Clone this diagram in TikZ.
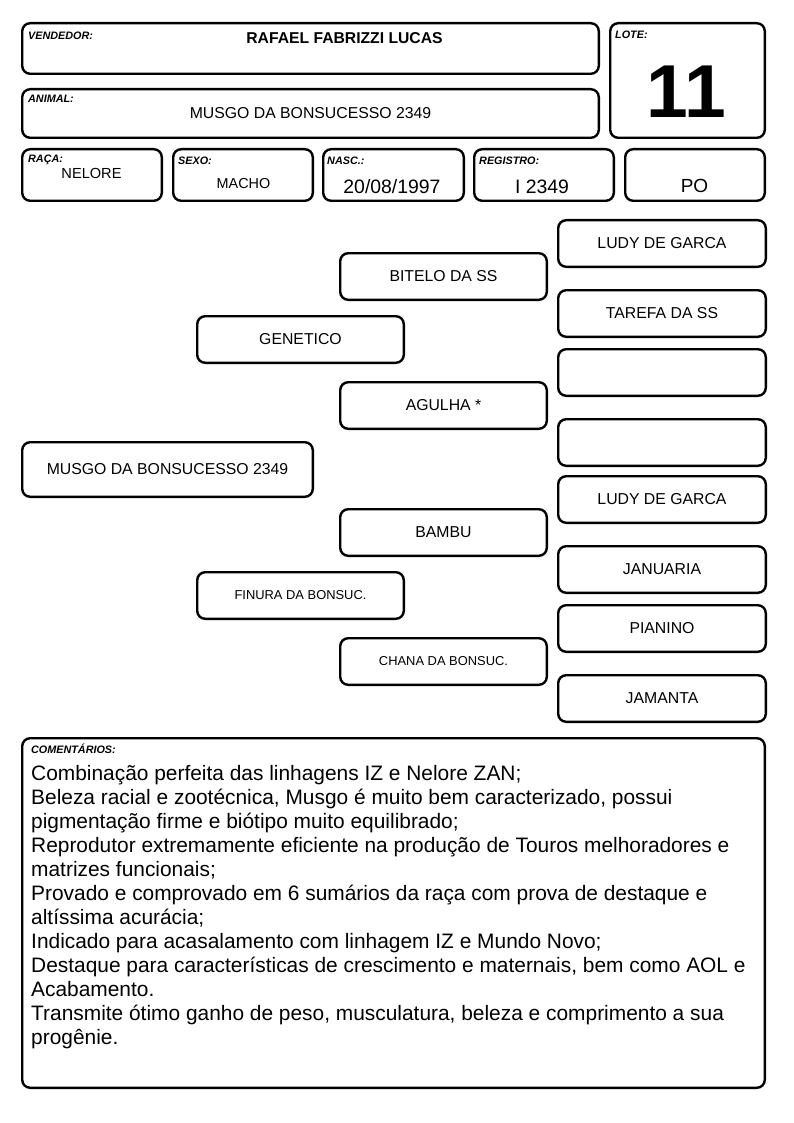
\documentclass[tikz,border=0pt]{standalone}
\usepackage{fontspec}
\setmainfont{Liberation Sans}
\begin{document}
\begin{tikzpicture}[x=1pt,y=-1pt,
  box/.style={draw, line width=2.4pt, rounded corners=8pt, inner sep=0pt, align=center, font=\fontsize{15.8}{18}\selectfont},
  rbox/.style={box, minimum width=207.6pt, minimum height=46.6pt},
  mbox/.style={box, minimum width=206.6pt, minimum height=46.6pt},
  hbox/.style={box, minimum width=139.6pt, minimum height=51.6pt},
  lbl/.style={anchor=base west, inner sep=0pt, font=\fontsize{10.8}{12}\selectfont\bfseries\itshape},
  val/.style={anchor=base, inner sep=0pt},
  small/.style={font=\fontsize{12.9}{15}\selectfont}]
\useasboundingbox (0,0) rectangle (794,1123);
% header
\node[box, minimum width=576.6pt, minimum height=50.6pt] (vend) at (310.5,48.5) {};
\node[box, minimum width=576.6pt, minimum height=48.6pt] (anim) at (310.5,113.5) {};
\node[box, minimum width=154.6pt, minimum height=114.6pt] (lote) at (687.5,80.5) {};
\node[hbox] (raca) at (92,175) {};
\node[hbox] (sexo) at (243,175) {};
\node[hbox, minimum width=140.6pt] (nasc) at (393.5,175) {};
\node[hbox] (reg) at (544,175) {};
\node[hbox] (po) at (695,175) {};
\node[lbl] (lvend) at (28,39.5) {VENDEDOR:};
\node[lbl] (llote) at (615,38.5) {LOTE:};
\node[lbl] (lanim) at (28,103) {ANIMAL:};
\node[lbl] (lraca) at (28,162.7) {RAÇA:};
\node[lbl] (lsexo) at (178,165) {SEXO:};
\node[lbl] (lnasc) at (327,165) {NASC.:};
\node[lbl] (lreg) at (479,165) {REGISTRO:};
\node[val, font=\fontsize{15.7}{18}\selectfont\bfseries] (tvend) at (344.5,43.5) {RAFAEL FABRIZZI LUCAS};
\node[val, font=\fontsize{15.8}{18}\selectfont] (tanim) at (310.5,119) {MUSGO DA BONSUCESSO 2349};
\node[val, font=\fontsize{75}{80}\selectfont\bfseries] (tlote) at (686.5,117.5) {11};
\node[val, font=\fontsize{14.6}{17}\selectfont] (traca) at (91.5,178.3) {NELORE};
\node[val, font=\fontsize{14.4}{17}\selectfont] (tsexo) at (243.5,189) {MACHO};
\node[val, font=\fontsize{19.4}{22}\selectfont] (tnasc) at (392,193.3) {20/08/1997};
\node[val, font=\fontsize{19.4}{22}\selectfont] (treg) at (542,193.3) {I 2349};
\node[val, font=\fontsize{19}{22}\selectfont] (tpo) at (694.5,192.7) {PO};
% pedigree
\node[box, minimum width=290.6pt, minimum height=54.6pt] (animal) at (167.5,469.5) {MUSGO DA BONSUCESSO 2349};
\node[mbox] (pai) at (300.5,339.5) {GENETICO};
\node[mbox, small] (mae) at (300.5,595.5) {FINURA DA BONSUC.};
\node[mbox] (avo1) at (443.5,276.5) {BITELO DA SS};
\node[mbox] (avo2) at (443.5,405.5) {AGULHA *};
\node[mbox] (avo3) at (443.5,532.5) {BAMBU};
\node[mbox, small] (avo4) at (443.5,661.5) {CHANA DA BONSUC.};
\node[rbox] (b1) at (662,243.5) {LUDY DE GARCA};
\node[rbox] (b2) at (662,313.5) {TAREFA DA SS};
\node[rbox] (b3) at (662,372.5) {};
\node[rbox] (b4) at (662,442.5) {};
\node[rbox] (b5) at (662,499.5) {LUDY DE GARCA};
\node[rbox] (b6) at (662,569.5) {JANUARIA};
\node[rbox] (b7) at (662,628.5) {PIANINO};
\node[rbox] (b8) at (662,698.5) {JAMANTA};
% comments
\node[box, minimum width=742.6pt, minimum height=349.6pt] (com) at (393.5,913) {};
\node[lbl] (lcom) at (31,753.5) {COMENTÁRIOS:};
\node[anchor=base west, inner sep=0pt, align=left, font=\fontsize{20.9}{24}\selectfont] (tcom) at (31,1044.5) {Combinação perfeita das linhagens IZ e Nelore ZAN;\\
Beleza racial e zootécnica, Musgo é muito bem caracterizado, possui\\
pigmentação firme e biótipo muito equilibrado;\\
Reprodutor extremamente eficiente na produção de Touros melhoradores e\\
matrizes funcionais;\\
Provado e comprovado em 6 sumários da raça com prova de destaque e\\
altíssima acurácia;\\
Indicado para acasalamento com linhagem IZ e Mundo Novo;\\
Destaque para características de crescimento e maternais, bem como AOL e\\
Acabamento.\\
Transmite ótimo ganho de peso, musculatura, beleza e comprimento a sua\\
progênie.};
\end{tikzpicture}
\end{document}
